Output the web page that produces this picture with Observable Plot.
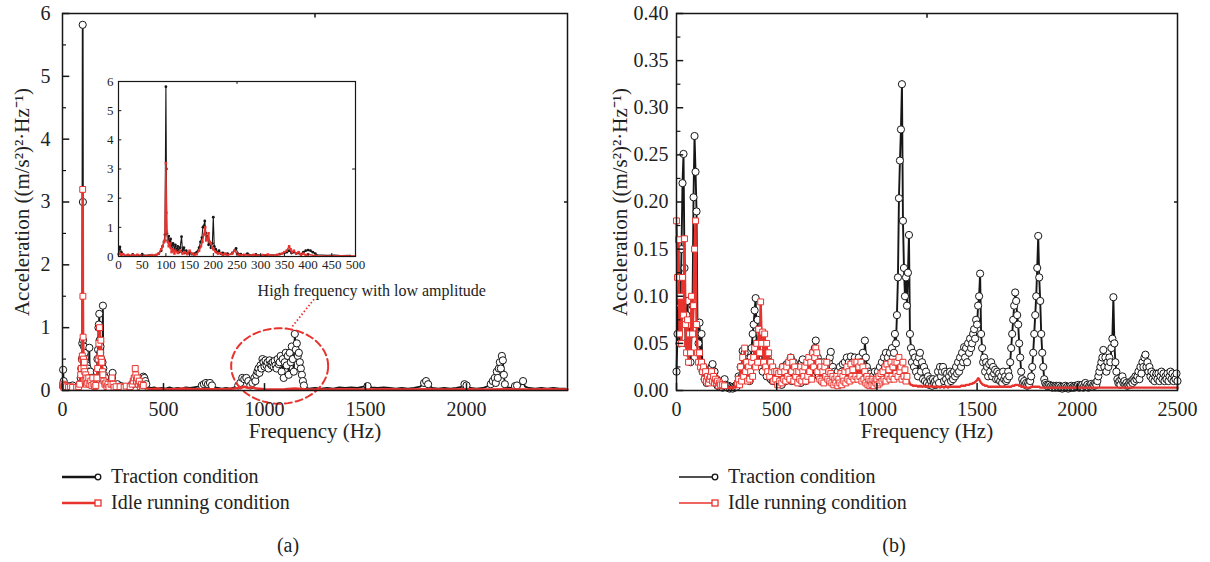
<!DOCTYPE html>
<html><head><meta charset="utf-8">
<script src="https://cdn.jsdelivr.net/npm/d3@7"></script>
<script src="https://cdn.jsdelivr.net/npm/@observablehq/plot@0.6"></script>
<style>
body{margin:0;background:#fff;font-family:"Liberation Serif",serif;}
#wrap{position:relative;width:1210px;height:562px;overflow:hidden;background:#fff;}
.abs{position:absolute;}
.leg{position:absolute;font-size:20px;line-height:20px;color:#222;white-space:nowrap;}
</style></head><body><div id="wrap"></div>
<script>
// ---------- DATA: panel (a)  [frequency Hz, value] ----------
const tractionA = [[0,0.05],[3,0.33],[6,0.15],[10,0.06],[15,0.04],[20,0.05],[25,0.03],[30,0.07],[35,0.04],[40,0.05],[45,0.03],[50,0.08],[55,0.05],[60,0.04],[65,0.06],[70,0.04],[75,0.05],[80,0.06],[85,0.1],[90,0.2],[93,0.35],[96,0.5],[98,0.75],[100,5.82],[101,3.0],[102,0.8],[104,0.55],[106,0.7],[108,0.4],[110,0.6],[112,0.3],[115,0.45],[118,0.25],[120,0.4],[123,0.2],[125,0.35],[128,0.15],[130,0.3],[133,0.68],[135,0.2],[138,0.3],[140,0.12],[143,0.2],[146,0.1],[150,0.15],[155,0.08],[160,0.1],[165,0.15],[170,0.3],[173,0.5],[176,0.65],[178,1.0],[180,1.05],[182,1.22],[184,0.8],[186,0.6],[188,0.7],[190,0.4],[192,0.5],[195,0.3],[198,0.45],[200,1.35],[202,0.35],[205,0.25],[208,0.15],[212,0.2],[216,0.1],[220,0.12],[225,0.08],[230,0.1],[235,0.06],[240,0.12],[245,0.2],[248,0.28],[252,0.1],[258,0.08],[265,0.06],[272,0.1],[280,0.05],[290,0.07],[300,0.05],[310,0.04],[320,0.06],[330,0.05],[340,0.08],[350,0.12],[355,0.15],[360,0.2],[365,0.12],[370,0.15],[375,0.1],[380,0.12],[385,0.08],[390,0.15],[395,0.2],[400,0.22],[405,0.2],[410,0.15],[415,0.1],[420,0.06],[430,0.05],[440,0.04],[455,0.05],[470,0.03],[490,0.04],[510,0.03],[530,0.05],[550,0.03],[570,0.04],[590,0.03],[610,0.05],[630,0.04],[650,0.05],[670,0.06],[690,0.08],[700,0.1],[710,0.12],[720,0.1],[730,0.12],[740,0.08],[750,0.05],[770,0.04],[790,0.03],[810,0.04],[830,0.03],[850,0.05],[870,0.08],[880,0.12],[890,0.2],[900,0.18],[910,0.2],[920,0.15],[930,0.08],[940,0.12],[950,0.2],[955,0.15],[960,0.25],[965,0.3],[970,0.35],[975,0.28],[980,0.4],[985,0.35],[990,0.5],[995,0.45],[1000,0.38],[1005,0.48],[1010,0.4],[1015,0.45],[1020,0.35],[1025,0.48],[1030,0.42],[1035,0.4],[1040,0.45],[1045,0.38],[1050,0.47],[1055,0.4],[1060,0.35],[1065,0.5],[1070,0.42],[1075,0.45],[1080,0.55],[1085,0.3],[1090,0.5],[1095,0.2],[1100,0.45],[1105,0.6],[1110,0.4],[1115,0.55],[1120,0.25],[1125,0.6],[1130,0.45],[1135,0.7],[1140,0.5],[1145,0.3],[1150,0.9],[1155,0.65],[1160,0.75],[1165,0.55],[1170,0.6],[1175,0.45],[1180,0.35],[1185,0.25],[1190,0.15],[1195,0.08],[1200,0.05],[1220,0.03],[1250,0.04],[1280,0.03],[1310,0.04],[1340,0.03],[1370,0.05],[1400,0.04],[1430,0.05],[1460,0.04],[1490,0.06],[1510,0.07],[1530,0.05],[1560,0.04],[1590,0.05],[1620,0.04],[1650,0.03],[1680,0.04],[1710,0.03],[1740,0.04],[1770,0.06],[1790,0.12],[1800,0.15],[1810,0.1],[1830,0.04],[1860,0.03],[1890,0.04],[1920,0.03],[1950,0.04],[1980,0.06],[1990,0.1],[2000,0.08],[2020,0.04],[2050,0.03],[2080,0.04],[2100,0.06],[2120,0.1],[2130,0.15],[2140,0.2],[2145,0.12],[2150,0.3],[2155,0.2],[2160,0.35],[2165,0.45],[2170,0.35],[2175,0.55],[2180,0.48],[2185,0.25],[2190,0.1],[2200,0.05],[2220,0.04],[2240,0.07],[2250,0.08],[2260,0.05],[2280,0.15],[2290,0.06],[2310,0.04],[2340,0.03],[2370,0.04],[2400,0.03],[2430,0.04],[2460,0.03],[2490,0.03]];
const idleA = [[0,0.08],[3,0.1],[6,0.05],[10,0.08],[15,0.03],[20,0.06],[25,0.04],[30,0.05],[35,0.03],[40,0.06],[45,0.04],[50,0.05],[55,0.03],[60,0.04],[65,0.03],[70,0.05],[75,0.04],[80,0.06],[85,0.1],[90,0.25],[93,0.35],[96,0.5],[98,0.55],[100,3.2],[101,1.5],[102,0.85],[104,0.5],[106,0.35],[108,0.45],[110,0.3],[112,0.15],[115,0.25],[118,0.1],[120,0.2],[125,0.12],[130,0.2],[135,0.1],[140,0.15],[145,0.08],[150,0.2],[155,0.1],[160,0.06],[165,0.08],[170,0.2],[174,0.35],[177,0.5],[180,0.75],[183,1.0],[185,0.55],[188,0.6],[190,0.8],[192,0.5],[195,0.45],[198,0.3],[200,0.25],[205,0.15],[210,0.1],[215,0.12],[220,0.06],[225,0.1],[230,0.05],[240,0.1],[245,0.2],[250,0.1],[255,0.05],[265,0.06],[275,0.04],[285,0.06],[295,0.04],[305,0.05],[315,0.07],[325,0.04],[335,0.06],[345,0.1],[350,0.15],[355,0.2],[360,0.35],[363,0.25],[366,0.15],[370,0.2],[375,0.1],[380,0.15],[385,0.06],[390,0.1],[395,0.05],[400,0.08],[410,0.04],[420,0.03],[440,0.02],[470,0.03],[500,0.02],[550,0.02],[600,0.03],[650,0.02],[700,0.02],[750,0.02],[800,0.02],[850,0.03],[880,0.04],[900,0.06],[920,0.04],[940,0.05],[960,0.03],[1000,0.02],[1050,0.015],[1100,0.02],[1150,0.03],[1200,0.02],[1300,0.015],[1400,0.02],[1500,0.015],[1600,0.02],[1700,0.015],[1800,0.02],[1900,0.015],[2000,0.02],[2100,0.015],[2200,0.02],[2300,0.015],[2400,0.02],[2500,0.015]];
const xTicksA = [0, 500, 1000, 1500, 2000];
const yTicksA = [0, 1, 2, 3, 4, 5, 6];
const yMinorA = [0.5, 1.5, 2.5, 3.5, 4.5, 5.5];
const xTicksInset = [0, 50, 100, 150, 200, 250, 300, 350, 400, 450, 500];
const yTicksInset = [0, 1, 2, 3, 4, 5, 6];
const annotationText = "High frequency with low amplitude";

// ---------- DATA: panel (b)  spectra sampled on 5 Hz bins, 0 … 2500 Hz (one row = 100 Hz) ----------
const binHzB = 5;
const tractionB = [
0.02,0.06,0.12,0.05,0.09,0.15,0.22,0.251,0.13,0.05,0.08,0.095,0.04,0.07,0.03,0.06,0.09,0.205,0.27,0.232,
0.19,0.06,0.05,0.072,0.03,0.06,0.02,0.025,0.012,0.02,0.008,0.015,0.01,0.02,0.012,0.025,0.028,0.015,0.02,0.008,
0.012,0.005,0.01,0.004,0.008,0.006,0.003,0.005,0.012,0.006,0.004,0.003,0.005,0.002,0.004,0.003,0.002,0.004,0.003,0.005,
0.004,0.008,0.015,0.01,0.025,0.015,0.042,0.02,0.04,0.012,0.03,0.015,0.025,0.01,0.035,0.045,0.06,0.07,0.085,0.098,
0.05,0.075,0.03,0.06,0.04,0.055,0.02,0.045,0.03,0.04,0.015,0.035,0.02,0.03,0.012,0.025,0.01,0.02,0.015,0.012,
0.02,0.008,0.015,0.01,0.02,0.006,0.025,0.012,0.02,0.01,0.028,0.015,0.03,0.02,0.035,0.01,0.025,0.03,0.015,0.02,
0.01,0.025,0.015,0.02,0.008,0.03,0.033,0.015,0.025,0.01,0.02,0.012,0.025,0.02,0.03,0.015,0.04,0.025,0.045,0.053,
0.02,0.035,0.015,0.03,0.025,0.01,0.02,0.03,0.015,0.025,0.012,0.02,0.03,0.035,0.041,0.015,0.025,0.01,0.02,0.015,
0.01,0.02,0.012,0.025,0.015,0.02,0.028,0.012,0.03,0.02,0.035,0.015,0.03,0.025,0.036,0.02,0.03,0.015,0.035,0.025,
0.03,0.018,0.035,0.025,0.03,0.015,0.04,0.02,0.053,0.035,0.025,0.015,0.02,0.01,0.018,0.012,0.015,0.008,0.02,0.012,
0.015,0.02,0.01,0.025,0.015,0.03,0.02,0.035,0.025,0.04,0.03,0.035,0.02,0.04,0.03,0.045,0.035,0.04,0.06,0.05,
0.08,0.12,0.204,0.244,0.277,0.325,0.18,0.13,0.1,0.12,0.09,0.125,0.165,0.06,0.045,0.03,0.04,0.025,0.035,0.02,
0.03,0.015,0.035,0.04,0.02,0.03,0.012,0.025,0.01,0.02,0.008,0.015,0.006,0.012,0.01,0.005,0.012,0.008,0.01,0.006,
0.012,0.02,0.008,0.025,0.015,0.02,0.025,0.01,0.02,0.012,0.018,0.008,0.015,0.02,0.01,0.018,0.012,0.02,0.015,0.025,
0.018,0.03,0.02,0.035,0.025,0.04,0.03,0.046,0.035,0.045,0.03,0.05,0.04,0.055,0.045,0.05,0.06,0.065,0.055,0.075,
0.07,0.09,0.1,0.124,0.06,0.045,0.03,0.035,0.02,0.03,0.025,0.015,0.028,0.02,0.03,0.015,0.025,0.018,0.022,0.012,
0.02,0.012,0.018,0.01,0.015,0.008,0.02,0.012,0.015,0.01,0.012,0.02,0.015,0.03,0.045,0.06,0.075,0.09,0.104,0.095,
0.08,0.07,0.05,0.035,0.02,0.012,0.008,0.01,0.006,0.008,0.005,0.008,0.006,0.01,0.015,0.025,0.04,0.06,0.08,0.1,
0.13,0.164,0.12,0.095,0.06,0.04,0.025,0.012,0.008,0.006,0.005,0.004,0.006,0.004,0.005,0.003,0.005,0.004,0.003,0.005,
0.004,0.003,0.005,0.003,0.004,0.002,0.004,0.003,0.005,0.003,0.004,0.002,0.004,0.003,0.005,0.003,0.004,0.003,0.005,0.004,
0.004,0.006,0.003,0.005,0.004,0.006,0.003,0.005,0.008,0.004,0.006,0.003,0.005,0.004,0.007,0.004,0.006,0.005,0.008,0.006,
0.01,0.015,0.02,0.025,0.03,0.035,0.043,0.025,0.035,0.02,0.03,0.025,0.035,0.03,0.045,0.055,0.099,0.05,0.03,0.02,
0.012,0.008,0.01,0.006,0.012,0.015,0.008,0.01,0.006,0.008,0.005,0.006,0.008,0.006,0.01,0.008,0.012,0.01,0.015,0.012,
0.015,0.02,0.012,0.025,0.018,0.03,0.025,0.035,0.038,0.025,0.03,0.02,0.025,0.015,0.02,0.012,0.018,0.01,0.015,0.018,
0.012,0.018,0.01,0.015,0.02,0.012,0.018,0.01,0.015,0.012,0.018,0.01,0.015,0.02,0.012,0.018,0.01,0.015,0.012,0.018,
0.01];
const idleB = [
0.18,0.12,0.16,0.06,0.1,0.05,0.12,0.08,0.161,0.07,0.04,0.075,0.03,0.06,0.04,0.1,0.06,0.09,0.15,0.18,
0.07,0.04,0.03,0.04,0.025,0.03,0.02,0.025,0.012,0.02,0.01,0.015,0.008,0.012,0.015,0.02,0.01,0.015,0.008,0.012,
0.008,0.01,0.005,0.008,0.006,0.004,0.006,0.003,0.005,0.004,0.003,0.004,0.003,0.002,0.003,0.004,0.002,0.003,0.004,0.003,
0.004,0.008,0.012,0.006,0.025,0.01,0.035,0.015,0.045,0.02,0.03,0.01,0.025,0.012,0.02,0.03,0.015,0.035,0.045,0.025,
0.05,0.03,0.065,0.04,0.094,0.05,0.062,0.03,0.06,0.025,0.05,0.02,0.04,0.015,0.03,0.02,0.025,0.01,0.02,0.012,
0.02,0.006,0.018,0.01,0.02,0.008,0.025,0.012,0.02,0.01,0.025,0.015,0.03,0.012,0.035,0.02,0.03,0.01,0.025,0.015,
0.02,0.008,0.02,0.012,0.025,0.01,0.02,0.015,0.025,0.01,0.03,0.015,0.035,0.02,0.03,0.012,0.04,0.025,0.035,0.045,
0.04,0.02,0.03,0.012,0.025,0.01,0.02,0.008,0.025,0.015,0.03,0.012,0.02,0.01,0.018,0.008,0.015,0.006,0.012,0.008,
0.015,0.005,0.012,0.008,0.018,0.006,0.015,0.01,0.02,0.008,0.025,0.012,0.02,0.01,0.028,0.015,0.022,0.012,0.03,0.015,
0.03,0.012,0.025,0.015,0.03,0.01,0.025,0.012,0.02,0.008,0.015,0.006,0.012,0.005,0.01,0.006,0.012,0.005,0.01,0.008,
0.012,0.006,0.015,0.008,0.018,0.01,0.02,0.012,0.025,0.01,0.028,0.015,0.022,0.012,0.03,0.015,0.025,0.012,0.03,0.018,
0.03,0.015,0.035,0.02,0.025,0.012,0.03,0.015,0.022,0.01,0.015,0.008,0.01,0.007,0.006,0.006,0.005,0.005,0.005,0.005,
0.005,0.004,0.005,0.004,0.005,0.004,0.004,0.005,0.004,0.004,0.005,0.004,0.004,0.004,0.005,0.004,0.004,0.004,0.004,0.004,
0.004,0.004,0.004,0.003,0.004,0.004,0.004,0.003,0.004,0.004,0.004,0.003,0.004,0.004,0.004,0.004,0.004,0.004,0.004,0.004,
0.004,0.004,0.004,0.004,0.005,0.005,0.005,0.005,0.005,0.006,0.006,0.006,0.006,0.007,0.007,0.007,0.008,0.008,0.009,0.01,
0.011,0.013,0.012,0.01,0.008,0.007,0.006,0.006,0.005,0.005,0.005,0.004,0.004,0.004,0.004,0.004,0.004,0.004,0.004,0.004,
0.004,0.004,0.004,0.004,0.004,0.004,0.004,0.004,0.004,0.004,0.004,0.004,0.004,0.004,0.004,0.005,0.005,0.005,0.006,0.006,
0.006,0.006,0.005,0.005,0.004,0.004,0.004,0.004,0.003,0.003,0.003,0.003,0.003,0.003,0.004,0.004,0.004,0.004,0.004,0.004,
0.004,0.004,0.004,0.003,0.003,0.003,0.003,0.003,0.003,0.003,0.003,0.003,0.003,0.003,0.003,0.003,0.003,0.003,0.003,0.003,
0.003,0.003,0.003,0.003,0.003,0.003,0.003,0.003,0.003,0.003,0.003,0.003,0.003,0.003,0.003,0.003,0.003,0.003,0.003,0.003,
0.003,0.003,0.003,0.003,0.003,0.003,0.003,0.003,0.003,0.003,0.003,0.003,0.003,0.003,0.003,0.003,0.003,0.003,0.003,0.003,
0.003,0.003,0.003,0.003,0.003,0.003,0.003,0.003,0.003,0.003,0.003,0.003,0.003,0.003,0.003,0.003,0.003,0.003,0.003,0.003,
0.003,0.003,0.003,0.003,0.003,0.003,0.003,0.003,0.003,0.003,0.003,0.003,0.003,0.003,0.003,0.003,0.003,0.003,0.003,0.003,
0.003,0.003,0.003,0.003,0.003,0.003,0.003,0.003,0.003,0.003,0.003,0.003,0.003,0.003,0.003,0.003,0.003,0.003,0.003,0.003,
0.003,0.003,0.003,0.003,0.003,0.003,0.003,0.003,0.003,0.003,0.003,0.003,0.003,0.003,0.003,0.003,0.003,0.003,0.003,0.003,
0.003];
const xTicksB = [0, 500, 1000, 1500, 2000, 2500];
const yTicksB = [0, 0.05, 0.10, 0.15, 0.20, 0.25, 0.30, 0.35, 0.40];
const yMinorB = [0.025, 0.075, 0.125, 0.175, 0.225, 0.275, 0.325, 0.375];

const seriesNames = ["Traction condition", "Idle running condition"];
const xTitle = "Frequency (Hz)";
const yTitle = "Acceleration ((m/s²)²·Hz⁻¹)";
const captions = ["(a)", "(b)"];

// ---------- helpers ----------
const toObj = arr => arr.map(([f, v]) => ({f, v}));
const binned = arr => arr.map((v, i) => ({f: i * binHzB, v}));
const TA = toObj(tractionA), IA = toObj(idleA), TB = binned(tractionB), IB = binned(idleB);
const RED = "#e8322d", BLK = "#161616", FONT = "Liberation Serif";
const wrap = document.getElementById("wrap");
function place(el, left, top) { el.classList.add("abs"); el.style.left = left + "px"; el.style.top = top + "px"; wrap.appendChild(el); }

// annotation ellipse (panel a), in data units
const ell = {cx: 1075, cy: 0.39, rx: 240, ry: 0.6};
const ellPts = d3.range(0, 361, 4).map(a => ({f: ell.cx + ell.rx * Math.cos(a * Math.PI / 180), v: ell.cy + ell.ry * Math.sin(a * Math.PI / 180)}));

// ---------- panel (a) ----------
const A = Plot.plot({
  width: 590, height: 460, marginLeft: 62, marginRight: 23, marginTop: 13, marginBottom: 70,
  style: {fontFamily: FONT, fontSize: "20px", color: "#222", background: "transparent", overflow: "visible"},
  x: {domain: [0, 2500]}, y: {domain: [0, 6]},
  marks: [
    Plot.line(TA, {x: "f", y: "v", stroke: BLK, strokeWidth: 1.8}),
    Plot.dot(TA.filter(d => d.v > 0.065), {x: "f", y: "v", r: 3.6, stroke: BLK, fill: "white", strokeWidth: 1}),
    Plot.line(IA, {x: "f", y: "v", stroke: RED, strokeWidth: 2.5}),
    Plot.dot(IA.filter(d => d.f <= 450 && d.v > 0.045), {x: "f", y: "v", symbol: "square", r: 3.3, stroke: RED, fill: "white", strokeWidth: 1}),
    Plot.line(ellPts, {x: "f", y: "v", stroke: RED, strokeWidth: 2, strokeDasharray: "7,4"}),
    Plot.link([{x1: 1138, y1: 1.02, x2: 1252, y2: 1.48}], {x1: "x1", y1: "y1", x2: "x2", y2: "y2", stroke: RED, strokeWidth: 1.8, strokeDasharray: "1.5,2.2"}),
    Plot.text([annotationText], {text: d => d, x: 1531, y: 1.58, fontSize: 16, fill: "#222"}),
    Plot.ruleY(yTicksA, {y: d => d, x1: 0, x2: 36, stroke: BLK, strokeWidth: 1.5}),
    Plot.ruleY(yMinorA, {y: d => d, x1: 0, x2: 20, stroke: BLK, strokeWidth: 1.2}),
    Plot.ruleX(xTicksA, {x: d => d, y1: 0, y2: 0.11, stroke: BLK, strokeWidth: 1.5}),
    Plot.ruleX([1250], {x: d => d, y1: 6, y2: 5.93, stroke: BLK, strokeWidth: 1.5}),
    Plot.ruleY([3], {y: d => d, x1: 2500, x2: 2485, stroke: BLK, strokeWidth: 1.5}),
    Plot.axisX({ticks: xTicksA, tickSize: 0, tickPadding: 11, tickFormat: d => String(d), label: null}),
    Plot.axisY({ticks: yTicksA, tickSize: 0, tickPadding: 12, tickFormat: d => String(d), label: null}),
    Plot.frame({stroke: BLK, strokeWidth: 1.5}),
    Plot.text([xTitle], {text: d => d, frameAnchor: "bottom", dy: 47, fontSize: 21, fill: "#222"}),
    Plot.text([yTitle], {text: d => d, frameAnchor: "left", textAnchor: "middle", rotate: -90, dx: -40, fontSize: 21, fill: "#222"})
  ]
});
place(A, 0, 0);

// inset
const In = Plot.plot({
  width: 370, height: 280, marginLeft: 118, marginRight: 15, marginTop: 81, marginBottom: 24,
  style: {fontFamily: FONT, fontSize: "13px", color: "#222", background: "transparent", overflow: "visible"},
  x: {domain: [0, 500]}, y: {domain: [0, 6]},
  marks: [
    Plot.frame({fill: "white"}),
    Plot.line(TA.filter(d => d.f <= 500), {x: "f", y: "v", stroke: BLK, strokeWidth: 1.1}),
    Plot.dot(TA.filter(d => d.f <= 500 && d.v > 0.065), {x: "f", y: "v", r: 1.4, fill: BLK}),
    Plot.line(IA.filter(d => d.f <= 500), {x: "f", y: "v", stroke: RED, strokeWidth: 1.5}),
    Plot.dot(IA.filter(d => d.f <= 500 && d.v > 0.045), {x: "f", y: "v", symbol: "square", r: 1.4, fill: RED}),
    Plot.ruleY(yTicksInset, {y: d => d, x1: 0, x2: 7, stroke: BLK, strokeWidth: 1}),
    Plot.ruleX(xTicksInset, {x: d => d, y1: 0, y2: 0.1, stroke: BLK, strokeWidth: 1}),
    Plot.ruleX([250], {x: d => d, y1: 6, y2: 5.9, stroke: BLK, strokeWidth: 1}),
    Plot.ruleY([3], {y: d => d, x1: 500, x2: 494, stroke: BLK, strokeWidth: 1}),
    Plot.axisX({ticks: xTicksInset, tickSize: 0, tickPadding: 3, tickFormat: d => String(d), label: null}),
    Plot.axisY({ticks: yTicksInset, tickSize: 0, tickPadding: 5, tickFormat: d => String(d), label: null}),
    Plot.frame({stroke: BLK, strokeWidth: 1.2})
  ]
});
place(In, 0, 0);

// ---------- panel (b) ----------
const B = Plot.plot({
  width: 610, height: 460, marginLeft: 76, marginRight: 33, marginTop: 13, marginBottom: 70,
  style: {fontFamily: FONT, fontSize: "20px", color: "#222", background: "transparent", overflow: "visible"},
  x: {domain: [0, 2500]}, y: {domain: [0, 0.4]},
  marks: [
    Plot.line(TB, {x: "f", y: "v", stroke: BLK, strokeWidth: 1.9}),
    Plot.dot(TB, {x: "f", y: "v", r: 3.6, stroke: BLK, fill: "white", strokeWidth: 1}),
    Plot.line(IB, {x: "f", y: "v", stroke: RED, strokeWidth: 2.4}),
    Plot.dot(IB.filter(d => d.f <= 1150 && d.v > 0.004), {x: "f", y: "v", symbol: "square", r: 3.3, stroke: RED, fill: "white", strokeWidth: 1}),
    Plot.ruleY(yTicksB, {y: d => d, x1: 0, x2: 36, stroke: BLK, strokeWidth: 1.5}),
    Plot.ruleY(yMinorB, {y: d => d, x1: 0, x2: 22, stroke: BLK, strokeWidth: 1.2}),
    Plot.ruleX(xTicksB, {x: d => d, y1: 0, y2: 0.0075, stroke: BLK, strokeWidth: 1.5}),
    Plot.ruleX([1250], {x: d => d, y1: 0.4, y2: 0.395, stroke: BLK, strokeWidth: 1.5}),
    Plot.ruleY([0.2], {y: d => d, x1: 2500, x2: 2485, stroke: BLK, strokeWidth: 1.5}),
    Plot.axisX({ticks: xTicksB, tickSize: 0, tickPadding: 11, tickFormat: d => String(d), label: null}),
    Plot.axisY({ticks: yTicksB, tickSize: 0, tickPadding: 8, tickFormat: d => d.toFixed(2), label: null}),
    Plot.frame({stroke: BLK, strokeWidth: 1.5}),
    Plot.text([xTitle], {text: d => d, frameAnchor: "bottom", dy: 47, fontSize: 21, fill: "#222"}),
    Plot.text([yTitle], {text: d => d, frameAnchor: "left", textAnchor: "middle", rotate: -90, dx: -56, fontSize: 21, fill: "#222"})
  ]
});
place(B, 600, 0);

// ---------- legends & captions ----------
function legendRow(x0, y, color, symbol, lineW, text) {
  const ns = "http://www.w3.org/2000/svg";
  const s = document.createElementNS(ns, "svg");
  s.setAttribute("width", 50); s.setAttribute("height", 20);
  s.style.position = "absolute"; s.style.left = x0 + "px"; s.style.top = (y - 10) + "px";
  const ln = document.createElementNS(ns, "line");
  ln.setAttribute("x1", 0); ln.setAttribute("x2", 33); ln.setAttribute("y1", 10); ln.setAttribute("y2", 10);
  ln.setAttribute("stroke", color); ln.setAttribute("stroke-width", lineW);
  s.appendChild(ln);
  let m;
  if (symbol === "circle") {
    m = document.createElementNS(ns, "circle");
    m.setAttribute("cx", 36); m.setAttribute("cy", 10); m.setAttribute("r", 2.8);
  } else {
    m = document.createElementNS(ns, "rect");
    m.setAttribute("x", 33); m.setAttribute("y", 7); m.setAttribute("width", 6); m.setAttribute("height", 6);
  }
  m.setAttribute("fill", "white"); m.setAttribute("stroke", color); m.setAttribute("stroke-width", 1.3);
  s.appendChild(m);
  wrap.appendChild(s);
  const t = document.createElement("div");
  t.className = "leg"; t.textContent = text;
  t.style.left = (x0 + 49) + "px"; t.style.top = (y - 11) + "px";
  wrap.appendChild(t);
}
legendRow(62, 477, BLK, "circle", 2.6, seriesNames[0]);
legendRow(62, 503, RED, "square", 2.6, seriesNames[1]);
legendRow(679, 477, BLK, "circle", 1.4, seriesNames[0]);
legendRow(679, 503, RED, "square", 1.4, seriesNames[1]);

function caption(text, cx) {
  const d = document.createElement("div");
  d.className = "leg"; d.textContent = text;
  d.style.left = (cx - 40) + "px"; d.style.width = "80px"; d.style.textAlign = "center"; d.style.top = "535px";
  wrap.appendChild(d);
}
caption(captions[0], 288);
caption(captions[1], 894);
</script>
</body></html>
